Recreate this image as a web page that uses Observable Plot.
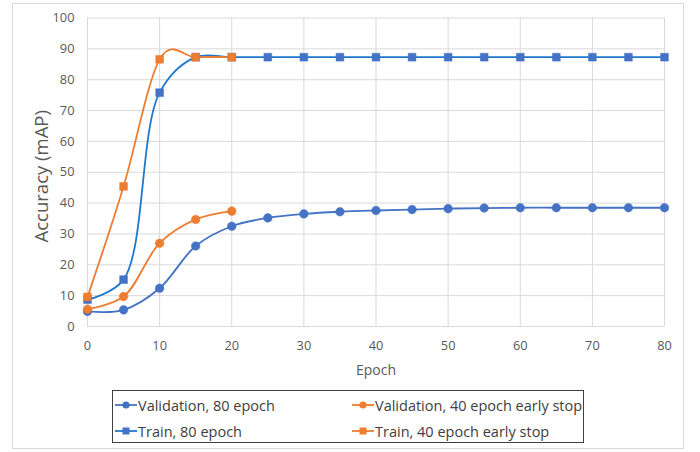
<!DOCTYPE html>
<html>
<head>
<meta charset="utf-8">
<script src="https://cdn.jsdelivr.net/npm/d3@7"></script>
<script src="https://cdn.jsdelivr.net/npm/@observablehq/plot@0.6"></script>
<style>
  html, body { margin: 0; padding: 0; background: #fff; }
  body { width: 700px; height: 452px; position: relative; overflow: hidden; font-family: "Open Sans", sans-serif; }
  #frame { position: absolute; left: 12px; top: 3px; width: 672px; height: 446px; border: 1px solid #d9d9d9; box-sizing: border-box; }
  #chart { position: absolute; left: 0; top: 0; }
  #chart g[aria-label*="tick label"] { font-size: 12.8px !important; }
  #legend { position: absolute; left: 112px; top: 390px; width: 472px; height: 53px; border: 1px solid #404040; box-sizing: border-box; font-size: 14.5px; color: #404040; }
  .item { position: absolute; display: flex; align-items: center; white-space: nowrap; }
  .item svg { margin-right: 1px; }
</style>
</head>
<body>
<div id="frame"></div>
<div id="chart"></div>
<div id="legend"></div>
<script>
const epochs80 = [0,5,10,15,20,25,30,35,40,45,50,55,60,65,70,75,80];
const val80   = [4.9,5.4,12.4,26.1,32.5,35.2,36.5,37.2,37.6,37.9,38.2,38.4,38.5,38.5,38.5,38.5,38.5];
const train80 = [8.7,15.2,75.8,87.3,87.3,87.3,87.3,87.3,87.3,87.3,87.3,87.3,87.3,87.3,87.3,87.3,87.3];
const epochs40 = [0,5,10,15,20];
const val40   = [5.6,9.7,27.0,34.7,37.4];
const train40 = [9.6,45.4,86.6,87.3,87.3];
const xTicks = [0,10,20,30,40,50,60,70,80];
const yTicks = [0,10,20,30,40,50,60,70,80,90,100];

const seriesNames = ["Validation, 80 epoch", "Validation, 40 epoch early stop", "Train, 80 epoch", "Train, 40 epoch early stop"];
const blue = "#4472C4", orange = "#ED7D31", blueLine = "#1F78CC";

const mk = (xs, ys, name) => xs.map((x, i) => ({epoch: x, acc: ys[i], series: name}));
const dV80 = mk(epochs80, val80, seriesNames[0]);
const dV40 = mk(epochs40, val40, seriesNames[1]);
const dT80 = mk(epochs80, train80, seriesNames[2]);
const dT40 = mk(epochs40, train40, seriesNames[3]);

const chart = Plot.plot({
  width: 700,
  height: 380,
  marginLeft: 87,
  marginRight: 36,
  marginTop: 17.5,
  marginBottom: 54,
  style: { fontFamily: "Open Sans, sans-serif", fontSize: "12.8px", background: "transparent", overflow: "visible" },
  x: { domain: [0, 80], ticks: xTicks, tickSize: 0, tickPadding: 14, label: null },
  y: { domain: [0, 100], ticks: yTicks, tickSize: 0, tickPadding: 13, label: null },
  marks: [
    Plot.gridX(xTicks, { stroke: "#d9d9d9", strokeOpacity: 1, strokeWidth: 1 }),
    Plot.gridY(yTicks, { stroke: "#d9d9d9", strokeOpacity: 1, strokeWidth: 1 }),
    Plot.axisX({ ticks: xTicks, tickSize: 0, tickPadding: 14, fontSize: 12.8, fill: "#595959", label: null }),
    Plot.axisY({ ticks: yTicks, tickSize: 0, tickPadding: 13, fontSize: 12.8, fill: "#595959", label: null }),
    Plot.text(["Epoch"], { frameAnchor: "bottom", dy: 48, fontSize: 14, fill: "#595959" }),
    Plot.text(["Accuracy (mAP)"], { frameAnchor: "left", textAnchor: "middle", dx: -45, dy: 4, rotate: -90, fontSize: 18.5, fill: "#595959" }),
    Plot.line(dV80, { x: "epoch", y: "acc", stroke: blue, strokeWidth: 1.8, curve: "catmull-rom" }),
    Plot.line(dT80, { x: "epoch", y: "acc", stroke: blueLine, strokeWidth: 1.8, curve: "catmull-rom" }),
    Plot.line(dV40, { x: "epoch", y: "acc", stroke: orange, strokeWidth: 1.8, curve: "catmull-rom" }),
    Plot.line(dT40, { x: "epoch", y: "acc", stroke: orange, strokeWidth: 1.8, curve: "cardinal" }),
    Plot.dot(dV80, { x: "epoch", y: "acc", r: 4.3, fill: blue, stroke: blue, strokeWidth: 0.5 }),
    Plot.dot(dT80, { x: "epoch", y: "acc", symbol: "square", r: 4.4, fill: blue, stroke: blue, strokeWidth: 0.5 }),
    Plot.dot(dV40, { x: "epoch", y: "acc", r: 4.3, fill: orange, stroke: orange, strokeWidth: 0.5 }),
    Plot.dot(dT40, { x: "epoch", y: "acc", symbol: "square", r: 4.4, fill: orange, stroke: orange, strokeWidth: 0.5 })
  ]
});
document.getElementById("chart").appendChild(chart);

// Legend
const legend = document.getElementById("legend");
const legendItems = [
  { name: seriesNames[0], color: blue, line: blue, shape: "circle", left: 2, top: 14 },
  { name: seriesNames[1], color: orange, line: orange, shape: "circle", left: 239, top: 14 },
  { name: seriesNames[2], color: blue, line: blueLine, shape: "square", left: 2, top: 40 },
  { name: seriesNames[3], color: orange, line: orange, shape: "square", left: 239, top: 40 }
];
legendItems.forEach(it => {
  const div = document.createElement("div");
  div.className = "item";
  div.style.left = it.left + "px";
  div.style.top = (it.top - 10) + "px";
  div.style.height = "20px";
  const marker = it.shape === "circle"
    ? `<circle cx="11" cy="6" r="3.6" fill="${it.color}"/>`
    : `<rect x="7.5" y="2.5" width="7" height="7" fill="${it.color}"/>`;
  div.innerHTML = `<svg width="22" height="12"><line x1="0" x2="22" y1="6" y2="6" stroke="${it.line}" stroke-width="1.8"/>${marker}</svg><span>${it.name}</span>`;
  legend.appendChild(div);
});
</script>
</body>
</html>
